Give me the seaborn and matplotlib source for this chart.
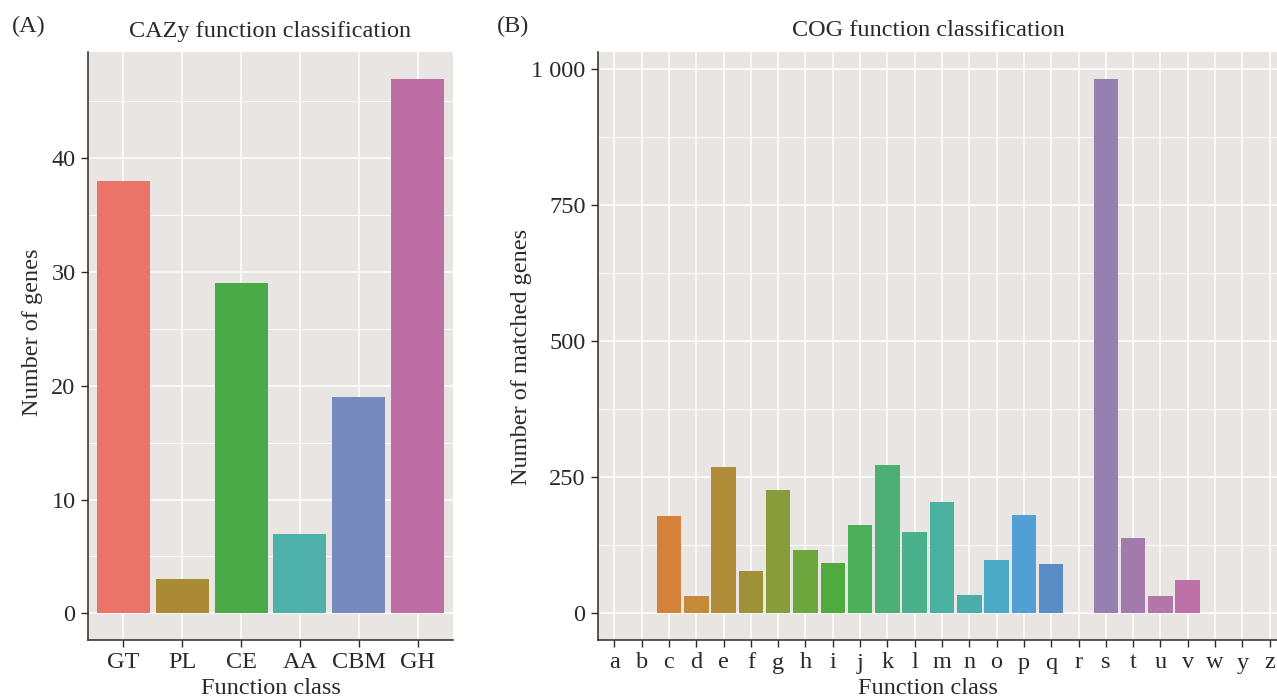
import matplotlib
matplotlib.use("Agg")
import matplotlib.pyplot as plt
import seaborn as sns
import pandas as pd
from matplotlib.ticker import FixedLocator, MultipleLocator

# ---- data ----
cazy_classes = ["GT", "PL", "CE", "AA", "CBM", "GH"]
cazy_counts = [38, 3, 29, 7, 19, 47]
cazy_colors = ["#EB746A", "#A98B36", "#4BAA48", "#4FB1AB", "#778ABD", "#BD6FA5"]

cog_classes = ["a", "b", "c", "d", "e", "f", "g", "h", "i", "j", "k", "l", "m",
               "n", "o", "p", "q", "r", "s", "t", "u", "v", "w", "y", "z"]
cog_counts = [0, 0, 178, 31, 268, 78, 227, 116, 93, 162, 272, 150, 205,
              34, 98, 180, 90, 0, 982, 139, 32, 62, 0, 0, 0]
cog_colors = ["#E5776A", "#DD7C50", "#D5813A", "#C58A38", "#AE8C38", "#9F9137",
              "#889C3C", "#6EA63E", "#4FAA3F", "#4BAE58", "#4CAF76", "#4BB08C",
              "#4AB1A0", "#4AADAA", "#4BA9C6", "#519FD3", "#5A8DC5", "#7B85BE",
              "#977FB1", "#A47AAC", "#B277A8", "#C070A8", "#C86FA0", "#D07096",
              "#D8728C"]

cazy_ticks = [0, 10, 20, 30, 40]
cog_ticks = [0, 250, 500, 750, 1000]
cog_tick_labels = ["0", "250", "500", "750", "1 000"]

sns.set_theme(style="white")
plt.rcParams["font.family"] = ["Liberation Serif", "DejaVu Serif"]

W, H = 1277, 698
fig = plt.figure(figsize=(W / 100, H / 100), dpi=100)
fig.patch.set_facecolor("white")

panel_bg = "#E9E5E2"
dark = "#2A2A2A"
fs = 17.5


def px_axes(left, right, top, bottom):
    return fig.add_axes([left / W, (H - bottom) / H, (right - left) / W, (bottom - top) / H])


def style_axes(ax, n, ylim, yticks, yticklabels, xlabel, ylabel,
               width_px, label_x, ylab_x, ylab_y):
    ax.set_facecolor(panel_bg)
    ax.set_xlim(-0.6, n - 0.4)
    ax.set_ylim(*ylim)
    ax.yaxis.set_major_locator(FixedLocator(yticks))
    ax.set_yticklabels(yticklabels)
    step = yticks[1] - yticks[0]
    ax.yaxis.set_minor_locator(MultipleLocator(step / 2))
    ax.set_axisbelow(True)
    ax.grid(True, which="major", axis="both", color="white", linewidth=1.1)
    ax.grid(True, which="minor", axis="y", color="white", linewidth=0.6)
    ax.xaxis.grid(True, which="major", color="white", linewidth=1.1)
    for s in ["top", "right"]:
        ax.spines[s].set_visible(False)
    for s in ["left", "bottom"]:
        ax.spines[s].set_visible(True)
        ax.spines[s].set_color(dark)
        ax.spines[s].set_linewidth(1.1)
    ax.tick_params(axis="both", which="major", direction="out", length=5, width=1.0,
                   color=dark, labelcolor=dark, labelsize=fs, bottom=True, left=True, pad=4)
    ax.tick_params(axis="y", which="minor", length=0)
    ax.set_xlabel(xlabel, fontsize=fs, color=dark)
    ax.xaxis.label.set_va("center")
    ax.xaxis.set_label_coords(label_x, -48 / 588)
    ax.set_ylabel(ylabel, fontsize=fs, color=dark)
    ax.yaxis.label.set_va("center")
    ax.yaxis.set_label_coords(ylab_x, ylab_y)


# ---- panel A ----
axA = px_axes(88, 453, 52, 640)
dfA = pd.DataFrame({"cls": cazy_classes, "n": cazy_counts})
sns.barplot(data=dfA, x="cls", y="n", hue="cls", order=cazy_classes,
            hue_order=cazy_classes, palette=dict(zip(cazy_classes, cazy_colors)),
            width=0.9, saturation=1, legend=False, ax=axA, linewidth=0)
style_axes(axA, len(cazy_classes), (-2.35, 49.35), cazy_ticks,
           [str(t) for t in cazy_ticks], "Function class", "Number of genes",
           365, 0.5, (33 - 88) / 365, (640 - 332) / 588)
axA.text(0.5, 1 + 21 / 588, "CAZy function classification", transform=axA.transAxes,
         fontsize=fs, color=dark, ha="center", va="center")
fig.text(12 / W, 1 - 26 / H, "(A)", fontsize=fs, color=dark, va="center", ha="left")

# ---- panel B ----
axB = px_axes(598, 1286, 52, 640)
dfB = pd.DataFrame({"cls": cog_classes, "n": cog_counts})
sns.barplot(data=dfB, x="cls", y="n", hue="cls", order=cog_classes,
            hue_order=cog_classes, palette=dict(zip(cog_classes, cog_colors)),
            width=0.9, saturation=1, legend=False, ax=axB, linewidth=0)
style_axes(axB, len(cog_classes), (-49.1, 1031.1), cog_ticks, cog_tick_labels,
           "Function class", "Number of matched genes",
           688, (928 - 598) / 688, (522 - 598) / 688, (640 - 357) / 588)
axB.text((928 - 598) / 688, 1 + 21 / 588, "COG function classification",
         transform=axB.transAxes, fontsize=fs, color=dark, ha="center", va="center")
fig.text(497 / W, 1 - 26 / H, "(B)", fontsize=fs, color=dark, va="center", ha="left")

fig.savefig("out.png", dpi=100, facecolor="white")
